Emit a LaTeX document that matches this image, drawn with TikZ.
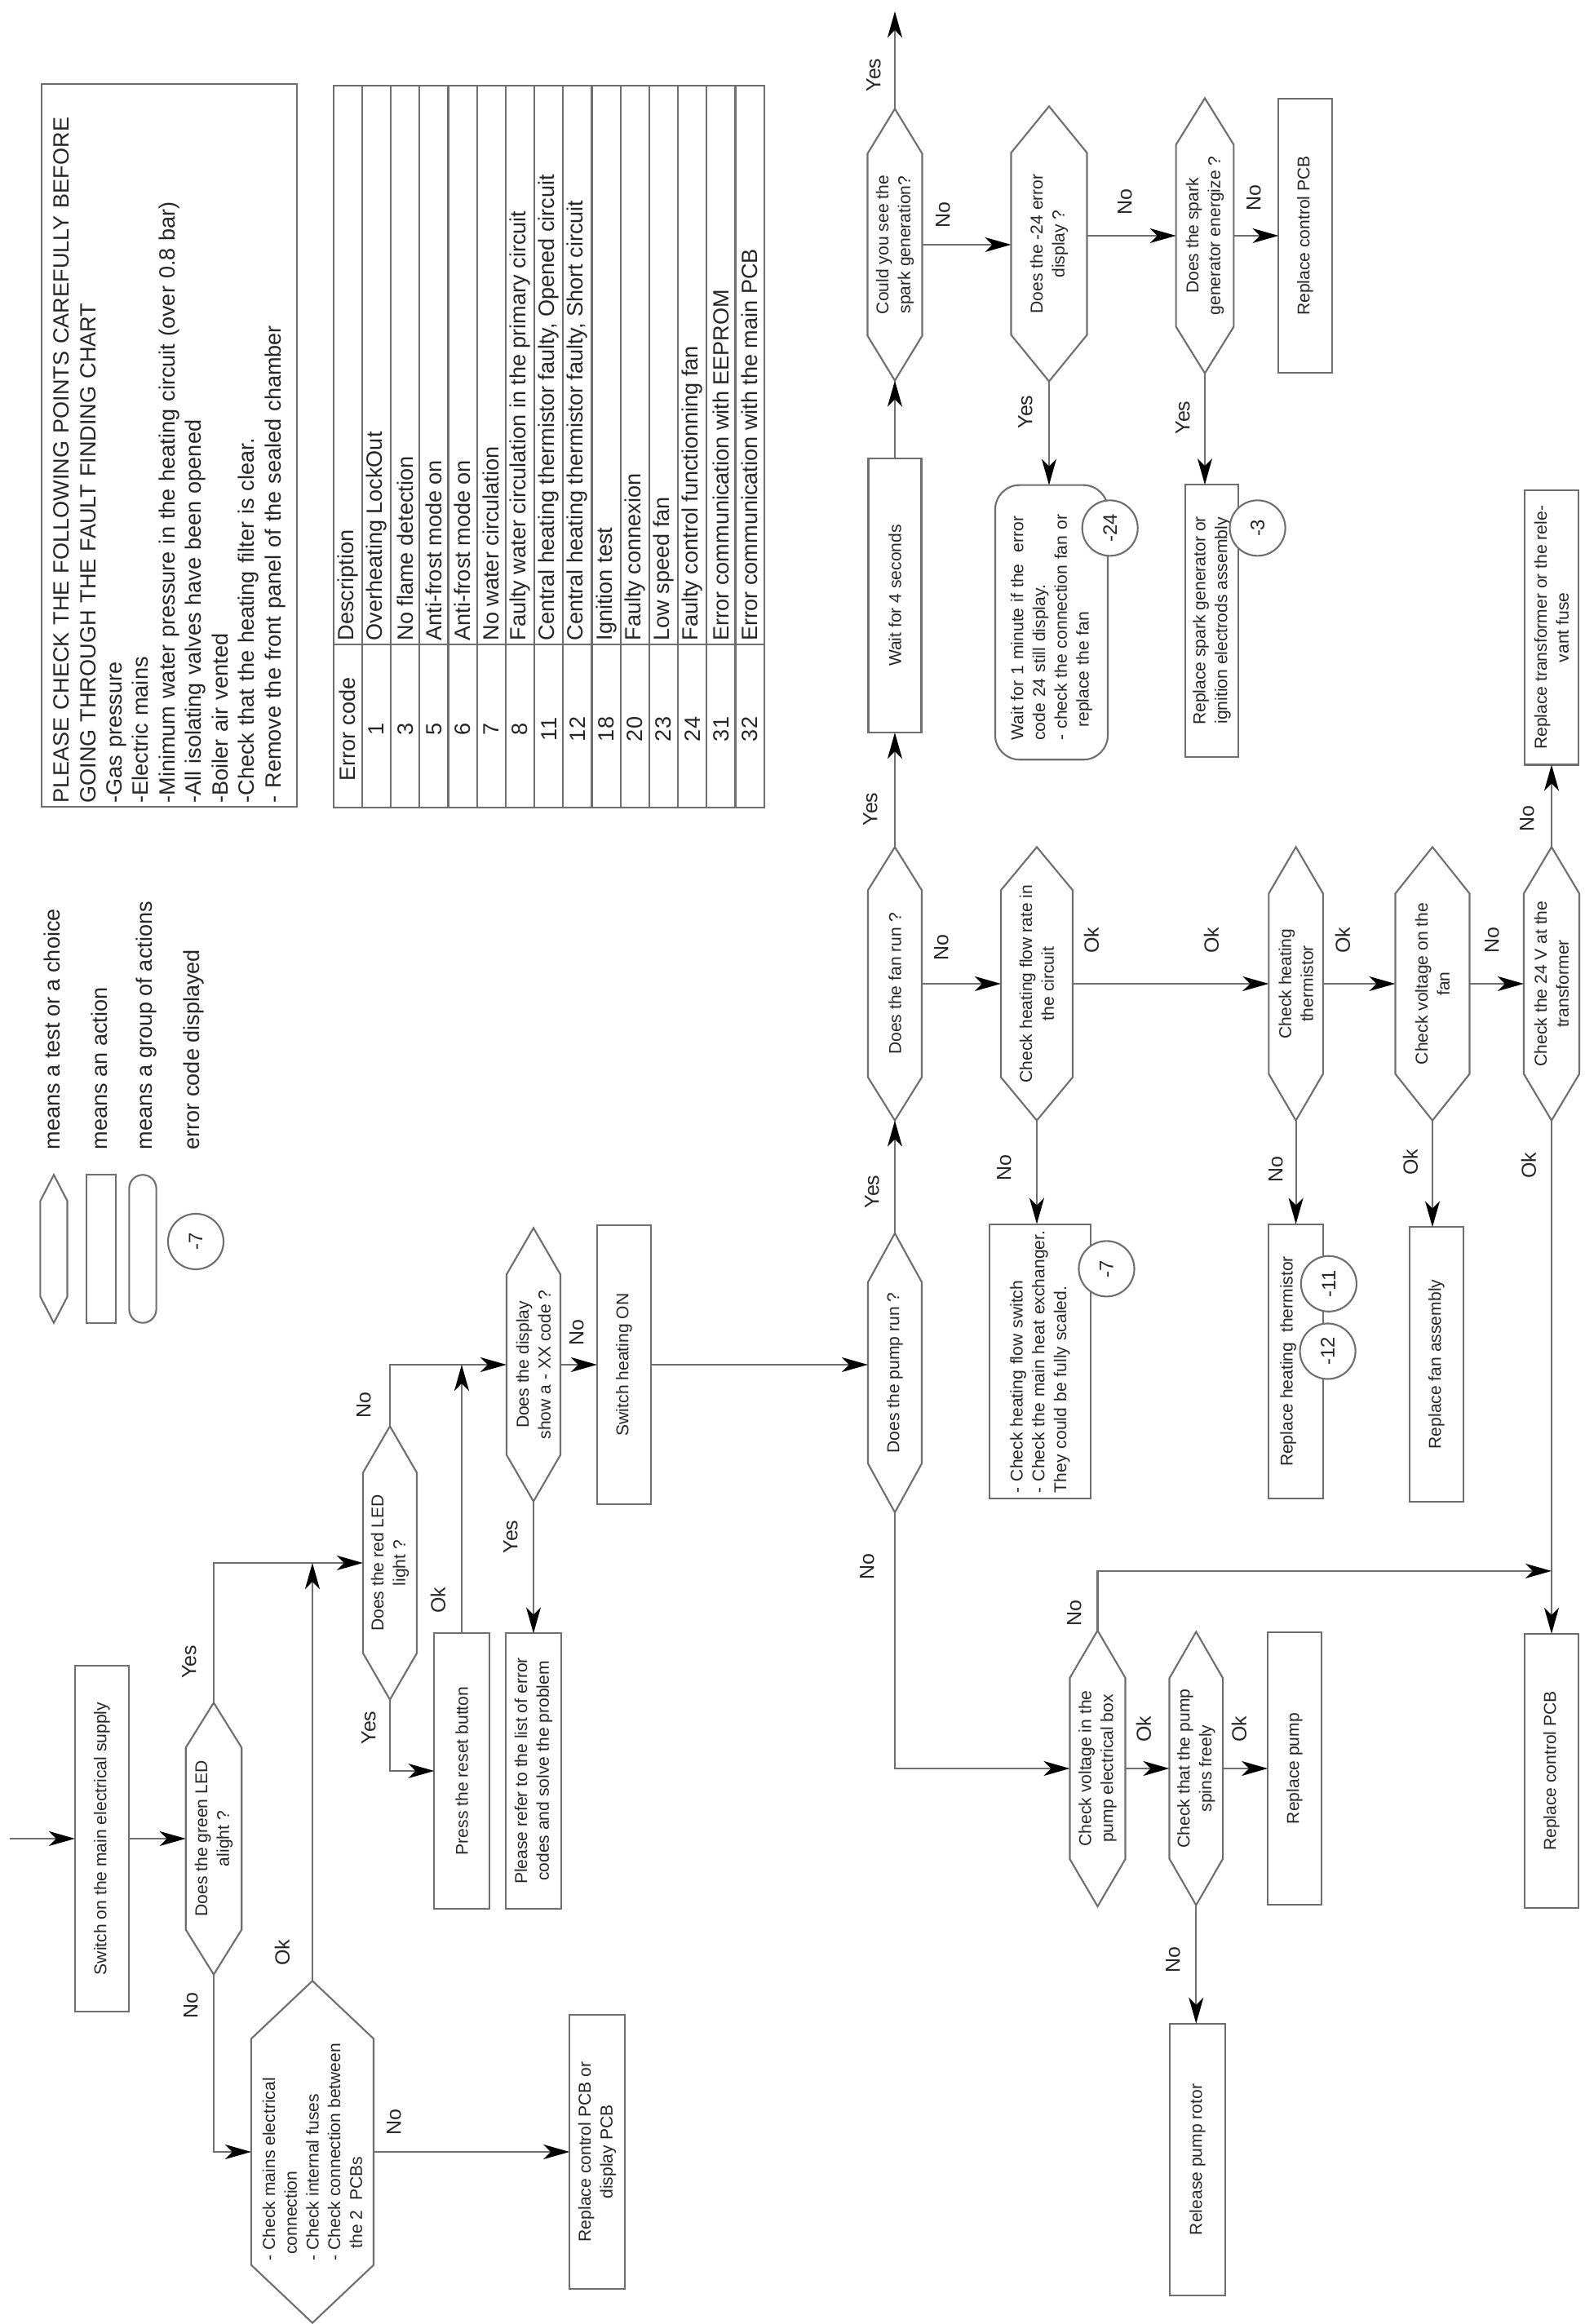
\documentclass[tikz,border=0pt]{standalone}
\usepackage{fontspec}
\setmainfont{Liberation Sans}
\usetikzlibrary{arrows.meta,calc}
\definecolor{LineGrey}{HTML}{6E6E6E}
\definecolor{InkText}{HTML}{262626}
\newcommand\chartfont{\fontsize{6}{7.6}\selectfont}
\newcommand\answerfont{\fontsize{7.1}{8.5}\selectfont}
\newcommand\notefont{\fontsize{7.7}{9.22}\selectfont}
\newcommand\codefont{\fontsize{6.8}{8}\selectfont}

\tikzset{
  action/.style={rectangle, draw=LineGrey, line width=0.6pt, minimum width=3.36cm,
    minimum height=0.66cm, inner sep=0pt, outer sep=0pt, align=center,
    font=\chartfont, text=InkText},
  choice/.style={rectangle, minimum width=3.35cm, minimum height=0.66cm,
    inner sep=0pt, outer sep=0pt, align=center, font=\chartfont, text=InkText},
  batch/.style={action, rounded corners=0.3cm},
  errcode/.style={circle, draw=LineGrey, fill=white, line width=0.6pt,
    minimum size=0.68cm, inner sep=0pt, font=\codefont, text=InkText},
  answer/.style={inner sep=0pt, font=\answerfont, text=InkText},
  keytext/.style={anchor=west, inner sep=0pt, font=\notefont, text=InkText},
  cell/.style={inner sep=0pt, font=\notefont, text=InkText},
  ruling/.style={draw=LineGrey, line width=0.6pt},
  link/.style={draw=LineGrey, line width=0.6pt,
    -{Stealth[length=0.32cm, width=0.18cm, inset=0.09cm, color=black]}},
}

\begin{document}
\begin{tikzpicture}[x=0.01cm, y=0.01cm]
\begin{scope}[rotate=90, transform shape]
\useasboundingbox (0,0) rectangle (2849,1942);

% key to the symbols
\node[choice, minimum width=1.813cm, minimum height=0.331cm] (keytest) at (1318,1876) {};
\node[action, minimum width=1.813cm, minimum height=0.352cm] (keyaction) at (1318,1818) {};
\node[batch, minimum width=1.813cm, minimum height=0.332cm, rounded corners=0.166cm] (keybatch) at (1318,1767) {};
\node[errcode] (keycode) at (1327,1702) {-7};
\node[keytext] (keytesttxt) at (1439,1878) {means a test or a choice};
\node[keytext] (keyactiontxt) at (1439,1820) {means an action};
\node[keytext] (keybatchtxt) at (1439,1762) {means a group of actions};
\node[keytext] (keycodetxt) at (1439,1704) {error code displayed};

% checks before starting
\node[ruling, rectangle, anchor=north west, text width=8.763cm, inner xsep=0.045cm,
  inner ysep=0pt, minimum height=3.132cm, align=left, font=\notefont, text=InkText]
  (notes) at (1859,1892) {PLEASE CHECK THE FOLLOWING POINTS CAREFULLY BEFORE\\
  GOING THROUGH THE FAULT FINDING CHART\\
  -Gas pressure\\
  -Electric mains\\
  -Minimum water pressure in the heating circuit (over 0.8 bar)\\
  -All isolating valves have been opened\\
  -Boiler air vented\\
  -Check that the heating filter is clear.\\
  - Remove the front panel of the sealed chamber};

% error code table
\draw[ruling] (1859,1005.3) rectangle (2744.3,1533.3);
\foreach \k in {1,...,14}
  \draw[ruling] (1859,1533.3-35.2*\k) -- (2744.3,1533.3-35.2*\k);
\draw[ruling] (2058.7,1005.3) -- (2058.7,1533.3);
\foreach \c/\d [count=\r from 0] in {Error code/Description, 1/Overheating LockOut,
    3/No flame detection, 5/Anti-frost mode on, 6/Anti-frost mode on,
    7/No water circulation, 8/Faulty water circulation in the primary circuit,
    11/{Central heating thermistor faulty, Opened circuit},
    12/{Central heating thermistor faulty, Short circuit}, 18/Ignition test,
    20/Faulty connexion, 23/Low speed fan, 24/Faulty control functionning fan,
    31/Error communication with EEPROM, 32/Error communication with the main PCB} {
  \node[cell] (code\r) at (1955,1515.7-35.2*\r) {\c};
  \node[cell, anchor=west] (desc\r) at (2063,1515.7-35.2*\r) {\d};
}

% power and display
\coordinate (start) at (595,1930);
\node[action, minimum width=4.23cm] (switch) at (595,1817) {Switch on the main electrical supply};
\node[choice, minimum width=3.33cm, minimum height=0.684cm] (green) at (595,1680) {Does the green LED\\alight ?};
\node[choice, minimum width=4.19cm, minimum height=1.5cm, align=left] (mains) at (211,1559)
  {- Check mains electrical\\\hspace*{0.35em}connection\\- Check internal fuses\\- Check connection between\\\hspace*{0.7em}the 2\ \ PCBs};
\node[action, minimum height=0.674cm] (pcbdisp) at (211,1210) {Replace control PCB or\\display PCB};
\node[choice] (red) at (933,1464) {Does the red LED\\light ?};
\node[action, minimum width=3.38cm, minimum height=0.672cm] (reset) at (678,1376) {Press the reset button};
\node[action, minimum width=3.37cm, minimum height=0.678cm] (refer) at (678,1288) {Please refer to the list of error\\codes and solve the problem};
\node[choice] (display) at (1176,1288) {Does the display\\show a - XX code ?};
\node[action, minimum width=3.42cm] (heaton) at (1176,1177) {Switch heating ON};

% pump and fan
\node[choice, minimum width=3.42cm] (pump) at (1166,845) {Does the pump run ?};
\node[choice] (fan) at (1643,845) {Does the fan run ?};
\node[action, minimum height=0.65cm] (wait) at (2119,845) {Wait for 4 seconds};
\node[choice, minimum width=3.33cm, minimum height=0.67cm] (spark) at (2549,845) {Could you see the\\spark generation?};
\coordinate (exit) at (2835,845);
\node[choice, minimum width=3.37cm, minimum height=0.93cm] (err24) at (2550,656) {Does the -24 error\\display ?};
\node[choice, minimum width=3.37cm, minimum height=0.707cm] (sparkgen) at (2560,465) {Does the spark\\generator energize ?};
\node[action, minimum width=3.35cm, minimum height=0.652cm] (pcbtop) at (2560,342) {Replace control PCB};
\node[action, minimum width=3.334cm, minimum height=0.65cm] (sparkrect) at (2088,456.5) {Replace spark generator or\\ignition electrods assembly};
\node[batch, minimum width=3.364cm, minimum height=1.38cm, text width=2.89cm, inner xsep=0.237cm, align=left] (wait1) at (2086,653)
  {Wait for 1 minute if the\ \ error\\code 24 still display.\\- check the connection fan or\\\hspace*{0.75em}replace the fan};
\node[choice, minimum height=0.88cm] (flowrate) at (1643,671) {Check heating flow rate in\\the circuit};
\node[action, minimum width=3.366cm, minimum height=1.236cm, text width=3.22cm, inner xsep=0.073cm, align=left] (flowsw) at (1180,667)
  {- Check heating flow switch\\- Check the main heat exchanger.\\They could be fully scaled.};
\node[choice, minimum height=0.665cm] (therm) at (1643,353.4) {Check heating\\thermistor};
\node[action, minimum width=3.366cm, minimum height=0.665cm] (thermrect) at (1180,353.4) {\raisebox{0.23cm}{Replace heating\ \ thermistor}};
\node[choice, minimum height=0.91cm] (vfan) at (1643,186) {Check voltage on the\\fan};
\node[action, minimum height=0.653cm] (fanrect) at (1176.5,181) {Replace fan assembly};
\node[choice, minimum height=0.68cm] (v24) at (1643,40) {Check the 24 V at the\\transformer};
\node[action, minimum height=0.653cm] (trafo) at (2079.6,40) {Replace transformer or the rele-\\vant fuse};
\node[action, minimum height=0.653cm] (pcbbot) at (678,40) {Replace control PCB};
\node[choice, minimum width=3.38cm, minimum height=0.68cm] (vpump) at (681,596.5) {Check voltage in the\\pump electrical box};
\node[choice, minimum height=0.656cm] (spins) at (681,475.7) {Check that the pump\\spins freely};
\node[action, minimum width=3.33cm, minimum height=0.657cm] (rpump) at (681,355) {Replace pump};
\node[action, minimum width=3.33cm, minimum height=0.677cm] (rotor) at (201.6,474) {Release pump rotor};

% outline of every test
\foreach \hx/\tip in {keytest/32, green/55, mains/71, red/57, display/57, pump/60,
    fan/53, spark/55, err24/57, sparkgen/57, flowrate/53, therm/57, vfan/57,
    v24/57, vpump/58, spins/57}
  \draw[ruling, line join=miter] (\hx.west) -- ($(\hx.north west)+(\tip,0)$)
    -- ($(\hx.north east)+(-\tip,0)$) -- (\hx.east)
    -- ($(\hx.south east)+(-\tip,0)$) -- ($(\hx.south west)+(\tip,0)$) -- cycle;

% error codes shown
\node[errcode] (c3) at (2201.6,400.4) {-3};
\node[errcode] (c24) at (2201.6,581.3) {-24};
\node[errcode] (c7) at (1293.6,585.5) {-7};
\node[errcode] (c11) at (1275.2,313.1) {-11};
\node[errcode] (c12) at (1192.5,314.4) {-12};

% connectors
\draw[link] (start) -- (switch.north);
\draw[link] (switch.south) -- (green.north);
\draw[link] (green.east) -| (red.north);
\draw[link] (mains.east) -- (mains.east -| red.north);
\draw[link] (green.west) -| (mains.north);
\draw[link] (mains.south) -- (pcbdisp.north);
\draw[link] (red.east) -| (display.north);
\draw[link] (reset.east) -- (reset.east -| display.north);
\draw[link] (red.west) -| (reset.north);
\draw[link] (display.west) -- (refer.east);
\draw[link] (display.south) -- (heaton.north);
\draw[link] (heaton.south) -- (heaton.south |- pump.north);
\draw[link] (pump.east) -- (fan.west);
\draw[link] (pump.west) -| (vpump.north);
\draw[link] (fan.east) -- (wait.west);
\draw[link] (wait.east) -- (spark.west);
\draw[link] (spark.east) -- (exit);
\draw[link] (spark.south) -- (spark.south |- err24.north);
\draw[link] (err24.south -| sparkgen.north) -- (sparkgen.north);
\draw[link] (sparkgen.south) -- (pcbtop.north);
\draw[link] (sparkgen.west) -- (sparkgen.west -| sparkrect.east);
\draw[link] (err24.west) -- (err24.west -| wait1.east);
\draw[link] (fan.south) -- (flowrate.north);
\draw[link] (flowrate.south) -- (therm.north);
\draw[link] (flowrate.west) -- (flowrate.west -| flowsw.east);
\draw[link] (therm.south) -- (vfan.north);
\draw[link] (therm.west) -- (thermrect.east);
\draw[link] (vfan.south) -- (v24.north);
\draw[link] (vfan.west) -- (vfan.west -| fanrect.east);
\draw[link] (v24.east) -- (trafo.west);
\draw[link] (v24.west) -- (pcbbot.east);
\draw[link] (vpump.east) -- ++(73,0) coordinate (vbend) -- (vbend |- pcbbot.east);
\draw[link] (vpump.south) -- (spins.north);
\draw[link] (spins.south) -- (rpump.north);
\draw[link] (spins.west) -- (spins.west -| rotor.east);

% answers
\node[answer] (yesA) at (811.5,1710) {Yes};
\node[answer] (okA) at (455,1596) {Ok};
\node[answer] (noA) at (390,1708) {No};
\node[answer] (noB) at (247,1459) {No};
\node[answer] (noC) at (1126,1496) {No};
\node[answer] (okB) at (887,1405) {Ok};
\node[answer] (yesB) at (731,1490) {Yes};
\node[answer] (yesC) at (965,1316) {Yes};
\node[answer] (noD) at (1215,1235) {No};
\node[answer] (yesD) at (1388,873) {Yes};
\node[answer] (noE) at (928,879) {No};
\node[answer] (yesE) at (1857,875) {Yes};
\node[answer] (yesF) at (2757,871) {Yes};
\node[answer] (noF) at (2585,786) {No};
\node[answer] (noG) at (2601,563) {No};
\node[answer] (noH) at (2606,405) {No};
\node[answer] (yesG) at (2337,492) {Yes};
\node[answer] (yesH) at (2344,685) {Yes};
\node[answer] (noI) at (1687,788) {No};
\node[answer] (okC) at (1696,604) {Ok};
\node[answer] (okD) at (1696,457) {Ok};
\node[answer] (noJ) at (1417,711) {No};
\node[answer] (okE) at (1696,296) {Ok};
\node[answer] (noK) at (1415,378) {No};
\node[answer] (noL) at (1696,113) {No};
\node[answer] (okF) at (1424,213) {Ok};
\node[answer] (noM) at (1845,70) {No};
\node[answer] (okG) at (1420,68) {Ok};
\node[answer] (noN) at (871,625) {No};
\node[answer] (okH) at (729,540) {Ok};
\node[answer] (okI) at (729,423) {Ok};
\node[answer] (noO) at (446,504) {No};
\end{scope}
\end{tikzpicture}
\end{document}
